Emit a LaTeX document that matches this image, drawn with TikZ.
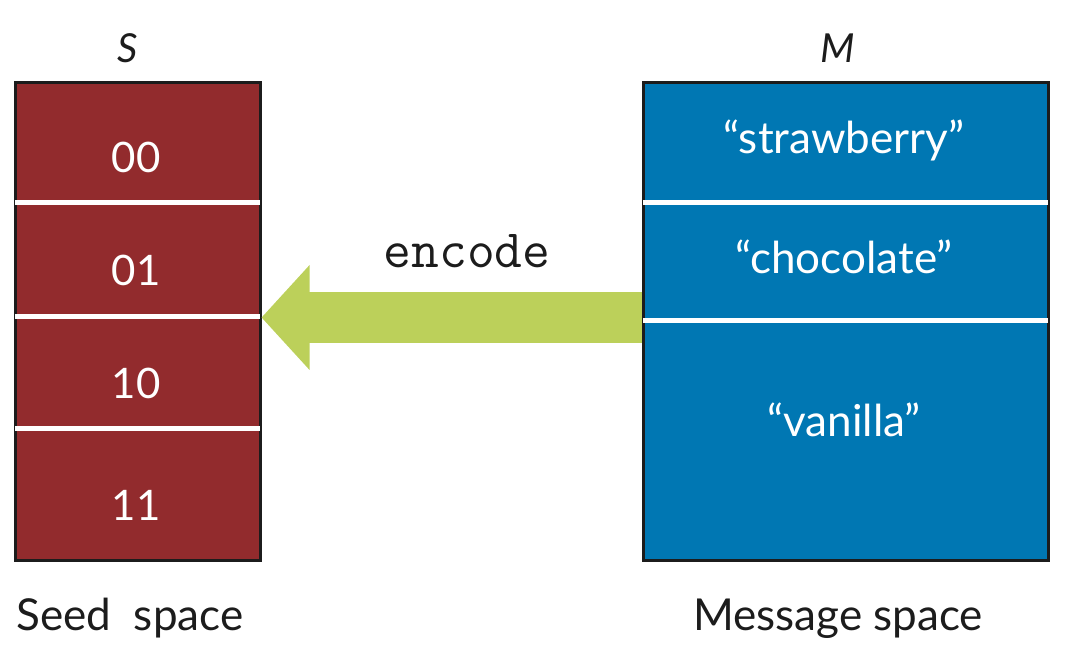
\documentclass[tikz,border=0pt]{standalone}
\usepackage{fontspec}
\setmainfont{Lato}
\usetikzlibrary{arrows.meta}
\definecolor{seedred}{HTML}{922B2D}
\definecolor{msgblue}{HTML}{0077B3}
\definecolor{encgreen}{HTML}{BCD05A}
\definecolor{boxline}{HTML}{1C1C1C}
\begin{document}
\begin{tikzpicture}[x=1pt, y=-1pt, every node/.style={inner sep=0pt},
    spacebox/.style={draw=boxline, line width=3pt, anchor=north west, minimum height=478pt},
    seedbox/.style={spacebox, fill=seedred, minimum width=245pt},
    msgbox/.style={spacebox, fill=msgblue, minimum width=405pt},
    divider/.style={draw=white, line width=5pt, shorten <=1.5pt, shorten >=1.5pt},
    celltext/.style={anchor=base, text=white, font=\fontsize{42}{50}\selectfont},
    msgtext/.style={anchor=base, text=white, font=\fontsize{44}{52}\selectfont},
    caption/.style={anchor=base, text=boxline, font=\fontsize{44}{52}\selectfont}]
  \useasboundingbox (0,0) rectangle (1066,662);
  \node[seedbox] (seed) at (13.5,80.5) {};
  \node[msgbox] (msg) at (641.5,80.5) {};

  % cell borders
  \foreach \y in {202,316,428}
    \draw[divider] (seed.west |- 0,\y) -- (seed.east |- 0,\y);
  \foreach \y in {202,320}
    \draw[divider] (msg.west |- 0,\y) -- (msg.east |- 0,\y);

  % seeds
  \node[celltext] (s00) at (136,172) {00};
  \node[celltext] (s01) at (136,285) {01};
  \node[celltext] (s10) at (136,398) {10};
  \node[celltext] (s11) at (136,520) {11};

  % messages
  \node[msgtext] (straw) at (844,153) {“strawberry”};
  \node[msgtext] (choc) at (844,273) {“chocolate”};
  \node[msgtext] (van) at (844,436) {“vanilla”};

  % labels
  \node[caption, font=\fontsize{40}{48}\selectfont\itshape] (S) at (128,62) {S};
  \node[caption, font=\fontsize{40}{48}\selectfont\itshape] (M) at (838,62) {M};
  \node[caption] (seedlbl) at (130,630) {Seed\ \ space};
  \node[caption] (msglbl) at (838,630) {Message space};

  \draw[encgreen, line width=51pt, -{Triangle[length=48pt, width=102pt]}]
    (msg.west |- 0,317.5) -- (seed.east |- 0,317.5);
  \node[anchor=base, text=boxline, font=\ttfamily\fontsize{54}{60}\selectfont] (enc) at (467,267)
    {encode};
\end{tikzpicture}
\end{document}
